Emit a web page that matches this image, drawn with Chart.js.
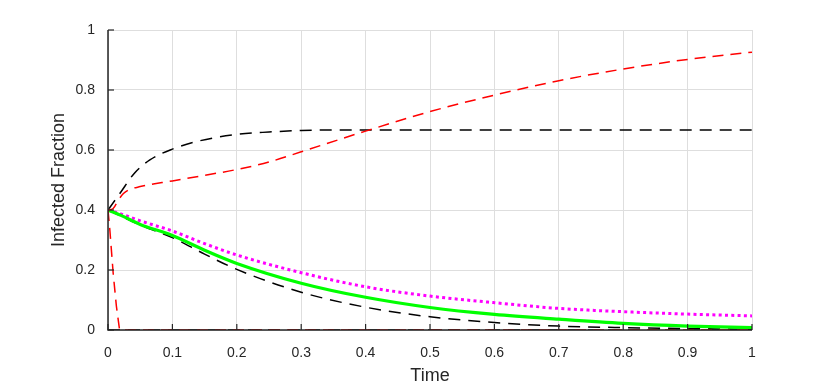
<!DOCTYPE html>
<html>
<head>
<meta charset="utf-8">
<script src="https://cdn.jsdelivr.net/npm/chart.js@4.4.1/dist/chart.umd.min.js"></script>
<style>
html,body{margin:0;padding:0;background:#fff;}
#wrap{width:830px;height:390px;}
</style>
</head>
<body>
<div id="wrap"><canvas id="c" width="830" height="390"></canvas></div>
<script>
// ---- data ----
const xTickLabels = ["0","0.1","0.2","0.3","0.4","0.5","0.6","0.7","0.8","0.9","1"];
const yTickLabels = ["0","0.2","0.4","0.6","0.8","1"];
const xTitle = 'Time';
const yTitle = 'Infected Fraction';

const tMain = [0, 0.02, 0.05, 0.1, 0.15, 0.2, 0.3, 0.4, 0.5, 0.6, 0.7, 0.8, 0.9, 1.0];
const greenVals   = [0.4, 0.382, 0.352, 0.315, 0.266, 0.222, 0.156, 0.109, 0.075, 0.052, 0.036, 0.022, 0.013, 0.008];
const magentaVals = [0.4, 0.387, 0.364, 0.330, 0.288, 0.250, 0.191, 0.144, 0.113, 0.091, 0.072, 0.061, 0.053, 0.047];
const blackLowVals= [0.4, 0.380, 0.350, 0.308, 0.253, 0.202, 0.126, 0.076, 0.044, 0.025, 0.013, 0.008, 0.005, 0.002];

const tBlackUp = [0, 0.01, 0.02, 0.04, 0.065, 0.1, 0.143, 0.2, 0.25, 0.3, 0.4, 0.5, 0.6, 0.7, 0.8, 0.9, 1.0];
const blackUpVals = [0.4, 0.43, 0.46, 0.52, 0.567, 0.603, 0.631, 0.652, 0.660, 0.665, 0.667, 0.667, 0.667, 0.667, 0.667, 0.667, 0.667];

const tRedUp = [0, 0.008, 0.016, 0.024, 0.032, 0.05, 0.1, 0.143, 0.2, 0.25, 0.3, 0.4, 0.5, 0.6, 0.7, 0.8, 0.9, 1.0];
const redUpVals = [0.4, 0.405, 0.433, 0.455, 0.467, 0.478, 0.497, 0.513, 0.535, 0.560, 0.594, 0.663, 0.728, 0.783, 0.831, 0.870, 0.902, 0.926];

const tRedLow = [0, 0.003, 0.008, 0.013, 0.018, 0.5, 1.0];
const redLowVals = [0.4, 0.33, 0.19, 0.08, 0, 0, 0];

const tBlackZero = [0, 0.5, 1.0];
const blackZeroVals = [0, 0, 0];

function pts(ts, ys){ return ts.map((t,i)=>({x:t, y:ys[i]})); }
const FONT = '"Liberation Sans", Arial, sans-serif';

const axisPlugin = {
  id:'matlabAxes',
  afterDatasetsDraw(chart){
    const {ctx, chartArea:a, scales:{x, y}} = chart;
    ctx.save();
    ctx.strokeStyle = '#262626';
    ctx.lineWidth = 1.5;
    ctx.beginPath();
    ctx.moveTo(a.left, a.top); ctx.lineTo(a.left, a.bottom);
    ctx.lineTo(a.right, a.bottom);
    ctx.stroke();
    ctx.lineWidth = 1.2;
    const tl = 6;
    xTickLabels.forEach(l=>{
      const px = x.getPixelForValue(parseFloat(l));
      ctx.beginPath(); ctx.moveTo(px, a.bottom); ctx.lineTo(px, a.bottom - tl); ctx.stroke();
    });
    yTickLabels.forEach(l=>{
      const py = y.getPixelForValue(parseFloat(l));
      ctx.beginPath(); ctx.moveTo(a.left, py); ctx.lineTo(a.left + tl, py); ctx.stroke();
    });
    ctx.restore();
  }
};

const common = {pointRadius:0, fill:false, cubicInterpolationMode:'monotone', borderJoinStyle:'round'};

new Chart(document.getElementById('c'), {
  type:'line',
  data:{
    datasets:[
      {label:'redLow', data:pts(tRedLow, redLowVals), borderColor:'#ff0000', borderWidth:1.5, borderDash:[11,7], tension:0, pointRadius:0, fill:false},
      Object.assign({label:'redUp', data:pts(tRedUp, redUpVals), borderColor:'#ff0000', borderWidth:1.5, borderDash:[11,7]}, common),
      Object.assign({label:'blackZero', data:pts(tBlackZero, blackZeroVals), borderColor:'#000000', borderWidth:1.5, borderDash:[12,8]}, common),
      Object.assign({label:'green', data:pts(tMain, greenVals), borderColor:'#00ff00', borderWidth:3.2}, common),
      Object.assign({label:'magenta', data:pts(tMain, magentaVals), borderColor:'#ff00ff', borderWidth:3, borderDash:[3,3.3]}, common),
      Object.assign({label:'blackLow', data:pts(tMain, blackLowVals), borderColor:'#000000', borderWidth:1.5, borderDash:[12,8]}, common),
      Object.assign({label:'blackUp', data:pts(tBlackUp, blackUpVals), borderColor:'#000000', borderWidth:1.5, borderDash:[12,8]}, common)
    ]
  },
  options:{
    responsive:false,
    animation:false,
    devicePixelRatio:1,
    layout:{padding:{left:0, right:78, top:30, bottom:0}},
    plugins:{legend:{display:false}, tooltip:{enabled:false}},
    scales:{
      x:{
        type:'linear', min:0, max:1,
        afterFit(s){ s.height = 60; },
        afterBuildTicks(s){ s.ticks = xTickLabels.map(v=>({value:parseFloat(v)})); },
        grid:{color:'#dedede', lineWidth:1, drawTicks:false},
        border:{display:false},
        ticks:{padding:15, color:'#262626', font:{family:FONT, size:14}, maxRotation:0,
          callback:(v,i)=>xTickLabels[i]},
        title:{display:true, text:xTitle, color:'#262626', font:{family:FONT, size:18}, padding:{top:0,bottom:3.5}}
      },
      y:{
        type:'linear', min:0, max:1,
        afterFit(s){ s.width = 108; },
        afterBuildTicks(s){ s.ticks = yTickLabels.map(v=>({value:parseFloat(v)})); },
        grid:{color:'#dedede', lineWidth:1, drawTicks:false},
        border:{display:false},
        ticks:{padding:13, color:'#262626', font:{family:FONT, size:14},
          callback:(v,i)=>yTickLabels[i]},
        title:{display:true, text:yTitle, color:'#262626', font:{family:FONT, size:18}, padding:{top:48,bottom:0}}
      }
    }
  },
  plugins:[axisPlugin]
});
</script>
</body>
</html>
